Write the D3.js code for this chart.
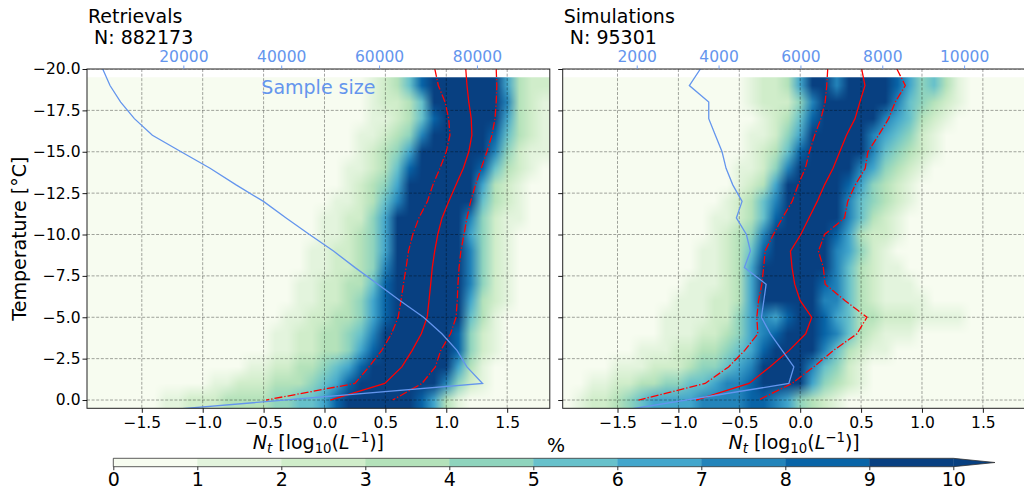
<!DOCTYPE html>
<html>
<head>
<meta charset="utf-8">
<script src="https://cdn.jsdelivr.net/npm/d3@7"></script>
<style>
  html, body { margin: 0; padding: 0; background: #fff; }
  svg { display: block; font-family: "DejaVu Sans", sans-serif; }
  text { white-space: pre; }
</style>
</head>
<body>
<svg id="chart" width="1024" height="489"></svg>
<script>
// ---------------- data ----------------
// temperature levels (°C) of the percentile profiles
const temps = [-20,-19,-18,-17,-16,-15,-14,-13,-12,-11,-10,-9,-8,-7,-6,-5,-4,-3,-2,-1,0];
// temperature levels of the sample-size curves (last point lies below the axis)
const countTemps = [-20,-19,-18,-17,-16,-15,-14,-13,-12,-11,-10,-9,-8,-7,-6,-5,-4,-3,-2,-1,1];
// histogram rows (°C) and Nt bin centres (log10 L^-1)
const heatTemps = [-19,-18,-17,-16,-15,-14,-13,-12,-11,-10,-9,-8,-7,-6,-5,-4,-3,-2,-1,0];
const ntBins = [-1.9,-1.8,-1.7,-1.6,-1.5,-1.4,-1.3,-1.2,-1.1,-1.0,-0.9,-0.8,-0.7,-0.6,-0.5,-0.4,-0.3,-0.2,-0.1,
                0.0,0.1,0.2,0.3,0.4,0.5,0.6,0.7,0.8,0.9,1.0,1.1,1.2,1.3,1.4,1.5,1.6,1.7,1.8];

// Retrievals: 25th / 50th / 75th percentile of Nt per temperature
const retP25 = [0.906,0.935,0.99,1.02,1.03,1.0,0.948,0.89,0.845,0.775,0.725,0.69,0.67,0.648,0.628,0.605,0.55,0.47,0.365,0.25,-0.48];
const retMed = [1.16,1.17,1.185,1.205,1.21,1.185,1.14,1.08,1.02,0.965,0.93,0.905,0.885,0.872,0.858,0.843,0.795,0.72,0.635,0.495,0.047];
const retP75 = [1.41,1.415,1.41,1.40,1.375,1.333,1.287,1.24,1.2,1.17,1.145,1.12,1.105,1.096,1.09,1.08,1.035,0.955,0.91,0.80,0.56];
const retCounts = [3520,5010,7190,9990,13670,19530,25460,30780,36370,41000,45770,50680,55110,59750,64310,69090,72840,75910,77950,81150,500];

// Simulations
const simP25 = [0.226,0.218,0.205,0.17,0.119,0.076,0.042,-0.017,-0.066,-0.146,-0.22,-0.288,-0.30,-0.315,-0.342,-0.356,-0.348,-0.455,-0.588,-0.78,-1.327];
const simMed = [0.505,0.532,0.49,0.45,0.38,0.325,0.27,0.2,0.14,0.072,0.005,-0.08,-0.067,-0.045,0.0,0.095,0.045,-0.09,-0.25,-0.42,-0.855];
const simP75 = [0.794,0.863,0.78,0.726,0.644,0.556,0.534,0.452,0.39,0.364,0.2,0.15,0.19,0.205,0.369,0.548,0.466,0.274,0.11,-0.068,-0.342];
const simCounts = [3555,3286,3760,3760,3922,4085,4183,4347,4574,4435,4680,4778,4631,5162,5105,5047,5267,5553,5839,5717,705];

// Frequency (%) per histogram row: [first Nt bin, percentages from that bin on]
const retrievalHeat = [
  [0.4, [1,2,3,5,8,10,12,13,13,12,10,6,3,2,2]],
  [0.4, [1,2,2,3,5,9,12,13,13,12,10,7,3,2,1]],
  [0.4, [1,1,2,3,5,8,12,13,14,12,10,6,3,2,1]],
  [0.3, [1,1,2,3,4,7,10,13,14,13,11,8,5,3,2,1]],
  [0.3, [1,2,3,4,6,9,12,14,14,12,10,7,4,2,1,1]],
  [0.2, [1,1,2,3,5,8,11,13,14,13,11,8,5,3,2,1]],
  [0.2, [1,2,3,4,6,9,12,14,14,12,10,6,3,2,1]],
  [0.1, [1,1,2,3,5,7,10,13,14,13,11,9,5,3,2,1]],
  [0.0, [1,1,2,2,4,6,9,12,14,14,12,10,7,4,2,1,1]],
  [0.0, [1,1,2,3,4,6,9,12,14,14,12,10,6,4,2,1]],
  [-0.1, [1,1,2,2,3,4,6,9,12,14,14,12,10,7,4,2,1]],
  [-0.1, [1,1,2,2,3,4,7,10,12,14,14,12,10,7,4,2,1]],
  [-0.2, [1,1,2,2,3,3,5,8,11,13,14,13,12,10,7,4,2,1]],
  [-0.2, [1,1,2,2,3,4,6,8,11,13,14,13,12,10,6,3,2,1]],
  [-0.3, [1,1,2,2,3,3,4,6,8,11,13,14,13,12,9,5,3,1]],
  [-0.4, [1,1,2,2,3,3,4,5,7,10,12,14,14,13,11,8,4,2,1]],
  [-0.4, [1,1,2,2,3,3,4,6,8,11,13,14,14,13,11,8,4,2,1]],
  [-0.6, [1,1,2,2,3,3,4,5,6,8,10,12,14,14,13,11,9,6,3,1]],
  [-0.9, [1,1,2,2,2,3,3,3,4,5,6,8,10,12,13,13,13,12,10,7,4,2,1]],
  [-1.3, [1,1,2,2,2,3,3,3,3,4,4,5,5,6,8,10,12,13,13,12,10,8,6,3,1]]
];
const simulationHeat = [
  [-0.4, [1,2,2,3,6,9,10,7,9,11,11,10,8,6,4,5,3,1]],
  [-0.4, [1,2,2,2,4,7,10,11,11,12,11,9,7,5,4,3,2,1]],
  [-0.3, [1,2,3,5,8,11,12,12,11,9,7,6,5,3,2,1]],
  [-0.4, [1,1,2,4,6,9,12,12,11,9,7,6,5,4,2,1]],
  [-0.4, [1,2,3,5,8,11,12,12,11,9,7,5,4,3,2,1]],
  [-0.5, [1,1,2,4,7,10,12,12,12,10,7,6,4,3,2,1]],
  [-0.5, [1,2,3,6,9,11,12,12,11,8,6,4,3,2,1]],
  [-0.6, [1,2,3,5,7,10,12,12,12,10,7,5,4,3,2,1]],
  [-0.7, [1,1,2,3,5,8,11,12,12,11,9,7,5,3,2,1]],
  [-0.7, [1,2,3,4,7,10,12,12,12,10,8,6,3,2,2,1]],
  [-0.8, [1,1,2,3,5,8,11,12,12,11,10,7,6,4,2,1]],
  [-0.8, [1,1,2,3,6,10,12,12,12,11,9,7,5,3,2,1,1]],
  [-0.9, [1,1,1,2,3,6,10,12,12,12,11,8,7,5,3,2,1,1,1]],
  [-1.0, [1,1,1,2,2,3,6,10,12,12,11,10,7,7,5,3,2,1,1,1,1]],
  [-1.1, [1,1,1,1,2,2,4,6,7,6,8,10,10,8,6,5,3,3,2,2,2,1,1,1,1]],
  [-1.1, [1,1,1,2,2,3,4,6,7,8,10,11,10,8,7,5,3,2,1,1,1]],
  [-1.3, [1,1,1,2,2,3,3,4,5,6,8,10,11,11,9,7,5,3,2,1,1]],
  [-1.5, [1,1,1,2,2,2,3,4,4,5,6,7,10,11,11,10,7,5,4,2,1]],
  [-1.7, [1,1,2,2,3,3,4,4,5,5,6,7,7,8,10,11,11,9,6,4,3,2,1]],
  [-1.8, [1,2,2,3,4,5,6,6,6,6,7,7,7,7,8,8,7,6,4,3,2,1]]
];

// axis ticks
const ntTicks = [-1.5,-1.0,-0.5,0.0,0.5,1.0,1.5];
const tempTicks = [-20,-17.5,-15,-12.5,-10,-7.5,-5,-2.5,0];
const retCountTicks = [20000,40000,60000,80000];
const simCountTicks = [2000,4000,6000,8000,10000];
const levelTicks = [0,1,2,3,4,5,6,7,8,9,10];
// discrete GnBu levels, 1 % wide, last level open-ended
const levelColors = ["#f7fcf0","#e3f4dd","#d0edca","#b4e2ba","#8fd4bd","#67c1cb","#42a6cc","#2384ba","#0864a7","#084081"];

// ---------------- drawing ----------------
const svg = d3.select("#chart");
const FS_TICK = 15.5, FS_LABEL = 19;
const BLUE = "#6495ed";
const plotTop = 69, plotBottom = 408.3;

const pctColor = d3.scaleThreshold().domain([1,2,3,4,5,6,7,8,9]).range(levelColors);
const yScale = d3.scaleLinear().domain([-20, 0.5]).range([plotTop, plotBottom]);

const binW = ntBins[1] - ntBins[0];
const ntExtent = [ntBins[0] - binW / 2, ntBins[ntBins.length - 1] + binW / 2];
const tExtent = [heatTemps[0] - 0.5, heatTemps[heatTemps.length - 1] + 0.5];

function heatImage(rows, w, h) {
  const nx = ntBins.length, ny = heatTemps.length;
  const grid = heatTemps.map(() => ntBins.map(() => d3.rgb(pctColor(0))));
  rows.forEach(([start, vals], r) => {
    const j0 = Math.round((start - ntBins[0]) / binW);
    vals.forEach((v, k) => { grid[r][j0 + k] = d3.rgb(pctColor(v)); });
  });
  const canvas = document.createElement("canvas");
  canvas.width = w; canvas.height = h;
  const ctx = canvas.getContext("2d");
  const img = ctx.createImageData(w, h);
  for (let py = 0; py < h; py++) {
    let v = (py + 0.5) / h * ny - 0.5;
    v = Math.max(0, Math.min(ny - 1, v));
    const r0 = Math.floor(v), r1 = Math.min(ny - 1, r0 + 1), fy = v - r0;
    for (let px = 0; px < w; px++) {
      let u = (px + 0.5) / w * nx - 0.5;
      u = Math.max(0, Math.min(nx - 1, u));
      const c0 = Math.floor(u), c1 = Math.min(nx - 1, c0 + 1), fx = u - c0;
      const a = grid[r0][c0], b = grid[r0][c1], c = grid[r1][c0], d = grid[r1][c1];
      const i = (py * w + px) * 4;
      ["r","g","b"].forEach((ch, k) => {
        img.data[i + k] = (a[ch] * (1 - fx) + b[ch] * fx) * (1 - fy) + (c[ch] * (1 - fx) + d[ch] * fx) * fy;
      });
      img.data[i + 3] = 255;
    }
  }
  ctx.putImageData(img, 0, 0);
  return canvas.toDataURL();
}

function styleAxis(g, color) {
  g.select(".domain").remove();
  g.selectAll(".tick line").attr("stroke", color).attr("stroke-width", 0.9);
  g.selectAll(".tick text").attr("fill", color).attr("font-size", FS_TICK)
    .attr("font-family", "DejaVu Sans");
}

const panels = [
  { id: "ret", left: 87, right: 549.8, title: "Retrievals", n: "882173", heat: retrievalHeat,
    p25: retP25, med: retMed, p75: retP75, counts: retCounts, countDomain: [307, 94890],
    countTicks: retCountTicks, yLabels: true, sampleLabel: true },
  { id: "sim", left: 562.7, right: 1025.5, title: "Simulations", n: "95301", heat: simulationHeat,
    p25: simP25, med: simMed, p75: simP75, counts: simCounts, countDomain: [191, 11500],
    countTicks: simCountTicks, yLabels: false, sampleLabel: false }
];

panels.forEach(p => {
  const x = d3.scaleLinear().domain(ntExtent).range([p.left, p.right]);
  const xc = d3.scaleLinear().domain(p.countDomain).range([p.left, p.right]);
  const g = svg.append("g");

  svg.append("clipPath").attr("id", "clip-" + p.id)
    .append("rect").attr("x", p.left).attr("y", plotTop)
    .attr("width", p.right - p.left).attr("height", plotBottom - plotTop);

  // 2-D frequency histogram
  const hx0 = x(ntExtent[0]), hx1 = x(ntExtent[1]);
  const hy0 = yScale(tExtent[0]), hy1 = yScale(tExtent[1]);
  const w = Math.round(hx1 - hx0), h = Math.round(hy1 - hy0);
  g.append("image")
    .attr("x", hx0).attr("y", hy0).attr("width", hx1 - hx0).attr("height", hy1 - hy0)
    .attr("preserveAspectRatio", "none")
    .attr("href", heatImage(p.heat, w, h));

  // grid
  const grid = g.append("g").attr("clip-path", `url(#clip-${p.id})`)
    .attr("stroke", "#000").attr("stroke-opacity", 0.45).attr("stroke-width", 0.8)
    .attr("stroke-dasharray", "3,1.6");
  grid.selectAll(".gx").data(ntTicks).join("line")
    .attr("x1", d => x(d)).attr("x2", d => x(d)).attr("y1", plotTop).attr("y2", plotBottom);
  grid.selectAll(".gy").data(tempTicks).join("line")
    .attr("x1", p.left).attr("x2", p.right).attr("y1", d => yScale(d)).attr("y2", d => yScale(d));

  // percentile profiles
  const lines = g.append("g").attr("clip-path", `url(#clip-${p.id})`).attr("fill", "none");
  const prof = d3.line().x(d => x(d[1])).y(d => yScale(d[0]));
  [[p.p25, "8,2,1.3,2"], [p.med, null], [p.p75, "8,2,1.3,2"]].forEach(([vals, dash]) => {
    lines.append("path")
      .attr("d", prof(temps.map((t, i) => [t, vals[i]])))
      .attr("stroke", "#ff0000").attr("stroke-width", 1.3)
      .attr("stroke-dasharray", dash);
  });

  // sample size
  const cl = d3.line().x(d => xc(d[1])).y(d => yScale(d[0]));
  lines.append("path")
    .attr("d", cl(countTemps.map((t, i) => [t, p.counts[i]])))
    .attr("stroke", BLUE).attr("stroke-width", 1.3);

  // frame
  g.append("rect").attr("x", p.left).attr("y", plotTop)
    .attr("width", p.right - p.left).attr("height", plotBottom - plotTop)
    .attr("fill", "none").attr("stroke", "#222").attr("stroke-width", 1);

  // axes
  const ax = g.append("g").attr("transform", `translate(0,${plotBottom})`)
    .call(d3.axisBottom(x).tickValues(ntTicks).tickSize(4.5).tickPadding(3.8).tickFormat(d3.format(".1f")));
  styleAxis(ax, "#000");

  const ay = g.append("g").attr("transform", `translate(${p.left},0)`)
    .call(d3.axisLeft(yScale).tickValues(tempTicks).tickSize(4.5).tickPadding(2)
      .tickFormat(p.yLabels ? d3.format(".1f") : () => ""));
  styleAxis(ay, "#000");

  const at = g.append("g").attr("transform", `translate(0,${plotTop})`)
    .call(d3.axisTop(xc).tickValues(p.countTicks).tickSize(3.5).tickPadding(4).tickFormat(d3.format("d")));
  styleAxis(at, BLUE);

  if (p.sampleLabel) {
    g.append("text").attr("x", (p.left + p.right) / 2).attr("y", 94)
      .attr("text-anchor", "middle").attr("font-size", FS_LABEL).attr("fill", BLUE)
      .text("Sample size");
  }

  // title
  const tt = g.append("text").attr("x", p.left + 1).attr("y", 22.7)
    .attr("font-size", FS_LABEL).attr("fill", "#000");
  tt.append("tspan").attr("x", p.left + 1).text(p.title);
  tt.append("tspan").attr("x", p.left + 1).attr("dy", 21.6).text(" N: " + p.n);

  // x label
  const cx = (p.left + p.right) / 2;
  const xl = g.append("text").attr("x", cx).attr("y", 448.5).attr("text-anchor", "middle")
    .attr("font-size", FS_LABEL).attr("fill", "#000");
  xl.append("tspan").attr("font-style", "italic").text("N");
  xl.append("tspan").attr("font-style", "italic").attr("font-size", 13.3).attr("dy", 4).text("t");
  xl.append("tspan").attr("dy", -4).text(" [log");
  xl.append("tspan").attr("font-size", 13.3).attr("dy", 4).text("10");
  xl.append("tspan").attr("dy", -4).text("(");
  xl.append("tspan").attr("font-style", "italic").text("L");
  xl.append("tspan").attr("font-size", 13.3).attr("dy", -7).text("\u22121");
  xl.append("tspan").attr("dy", 7).text(")]");
});

// y label
svg.append("text").attr("transform", `translate(26,${(plotTop + plotBottom) / 2}) rotate(-90)`)
  .attr("text-anchor", "middle").attr("font-size", FS_LABEL).attr("fill", "#000")
  .text("Temperature [°C]");

// ---------------- colour bar ----------------
const cb = d3.scaleLinear().domain([0, 10]).range([113.3, 953.3]);
const cbTop = 458.3, cbBot = 466.7, cbTip = 995;
const cbg = svg.append("g");
cbg.selectAll("rect").data(levelColors).join("rect")
  .attr("x", (d, i) => cb(i)).attr("width", (d, i) => cb(i + 1) - cb(i) + 0.4)
  .attr("y", cbTop).attr("height", cbBot - cbTop).attr("fill", d => d);
cbg.append("path")
  .attr("d", `M${cb(10)},${cbTop}L${cbTip},${(cbTop + cbBot) / 2}L${cb(10)},${cbBot}Z`)
  .attr("fill", levelColors[levelColors.length - 1]);
cbg.append("path")
  .attr("d", `M${cb(0)},${cbTop}L${cb(10)},${cbTop}L${cbTip},${(cbTop + cbBot) / 2}L${cb(10)},${cbBot}L${cb(0)},${cbBot}Z`)
  .attr("fill", "none").attr("stroke", "#333").attr("stroke-width", 0.8);
const cba = cbg.append("g").attr("transform", `translate(0,${cbBot})`)
  .call(d3.axisBottom(cb).tickValues(levelTicks).tickSize(3.5).tickPadding(2).tickFormat(d3.format("d")));
cba.select(".domain").remove();
cba.selectAll(".tick line").attr("stroke", "#000").attr("stroke-width", 0.8);
cba.selectAll(".tick text").attr("font-size", FS_LABEL).attr("font-family", "DejaVu Sans").attr("fill", "#000");
cbg.append("text").attr("x", 556).attr("y", 452).attr("text-anchor", "middle")
  .attr("font-size", FS_LABEL).attr("fill", "#000").text("%");
</script>
</body>
</html>
